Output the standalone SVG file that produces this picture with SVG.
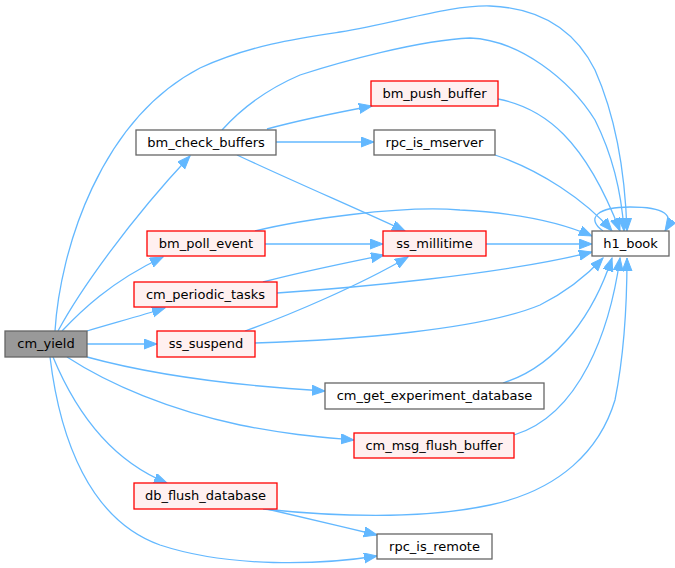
<svg xmlns="http://www.w3.org/2000/svg" width="675" height="568" viewBox="0 0 675 568">
<style>
  .n rect { stroke-width: 1.3; }
  .g rect { fill: #ffffff; stroke: #666666; }
  .r rect { fill: #fff0f0; stroke: #ff0000; }
  .c rect { fill: #999999; stroke: #666666; }
  text { font-family: "DejaVu Sans", "Liberation Sans", sans-serif; font-size: 13px; fill: #000000; text-anchor: middle; }
  .e path { fill: none; stroke: #63b8ff; stroke-width: 1.3; marker-end: url(#arr); }
</style>
<defs>
  <marker id="arr" markerUnits="userSpaceOnUse" markerWidth="14" markerHeight="11" refX="13" refY="5" orient="auto">
    <path d="M0,0 L13,5 L0,10 z" fill="#63b8ff" stroke="#63b8ff" stroke-width="1"/>
  </marker>
</defs>
<rect width="675" height="568" fill="#ffffff"/>
<g id="edges" class="e">
  <path d="M55,331 C60,250 100,120 200,68 C250,45 300,38 340,32 C400,22 450,5 490,6 C540,8 575,30 595,70 C615,115 625,170 627,231"/>
  <path d="M58,331 C80,290 130,220 190,156"/>
  <path d="M62,331 C80,312 110,282 163,257"/>
  <path d="M87,331 C110,324 140,316 165,308"/>
  <path d="M87,344 L157,344"/>
  <path d="M87,357 C160,377 240,386 325,391"/>
  <path d="M67,357 C110,385 170,410 240,425 C290,435 320,437 354,440"/>
  <path d="M53,357 C75,410 110,460 167,483"/>
  <path d="M50,357 C60,440 90,520 160,545 C230,568 320,565 377,556"/>
  <path d="M222,130 C240,110 265,90 300,75 C340,62 420,40 470,38 C520,40 570,80 595,120 C615,160 622,200 624,231"/>
  <path d="M267,129 C300,120 340,112 372,106"/>
  <path d="M276,142 L374,142"/>
  <path d="M237,155 C290,180 360,210 405,231"/>
  <path d="M498,99 C545,108 585,140 620,231"/>
  <path d="M495,155 C540,170 585,200 612,231"/>
  <path d="M255,231 C300,220 400,205 460,210 C520,213 560,222 592,236"/>
  <path d="M265,244 L383,244"/>
  <path d="M486,244 L592,244"/>
  <path d="M263,282 C300,272 350,262 384,255"/>
  <path d="M277,293 C350,288 500,275 592,252"/>
  <path d="M245,331 C290,315 360,285 408,257"/>
  <path d="M255,343 C350,340 480,330 540,305 C570,290 590,272 603,258"/>
  <path d="M503,383 C560,365 595,310 612,258"/>
  <path d="M514,435 C580,415 610,330 620,258"/>
  <path d="M263,509 C330,516 420,520 490,505 C560,490 600,450 615,400 C625,350 627,300 627,258"/>
  <path d="M267,509 C300,517 340,526 377,535"/>
  <path d="M603,231 C585,218 598,207 630,207 C665,207 675,215 665,231"/>
</g>
<g id="node_cm_yield" class="n c"><rect x="5" y="331" width="82" height="26"/><text x="46" y="348">cm_yield</text></g>
<g id="node_bm_check_buffers" class="n g"><rect x="136" y="130" width="140" height="25"/><text x="206" y="147">bm_check_buffers</text></g>
<g id="node_bm_poll_event" class="n r"><rect x="147" y="231" width="118" height="25"/><text x="206" y="248">bm_poll_event</text></g>
<g id="node_cm_periodic_tasks" class="n r"><rect x="134" y="282" width="143" height="25"/><text x="205.5" y="299">cm_periodic_tasks</text></g>
<g id="node_ss_suspend" class="n r"><rect x="157" y="331" width="98" height="26"/><text x="206" y="348">ss_suspend</text></g>
<g id="node_db_flush_database" class="n r"><rect x="134" y="483" width="143" height="26"/><text x="205.5" y="500">db_flush_database</text></g>
<g id="node_bm_push_buffer" class="n r"><rect x="371" y="81" width="127" height="25"/><text x="434.5" y="98">bm_push_buffer</text></g>
<g id="node_rpc_is_mserver" class="n g"><rect x="374" y="130" width="121" height="25"/><text x="434.5" y="147">rpc_is_mserver</text></g>
<g id="node_ss_millitime" class="n r"><rect x="383" y="231" width="103" height="25"/><text x="434.5" y="248">ss_millitime</text></g>
<g id="node_h1_book" class="n g"><rect x="592" y="231" width="77" height="25"/><text x="630.5" y="248">h1_book</text></g>
<g id="node_cm_get_experiment_database" class="n g"><rect x="325" y="383" width="219" height="26"/><text x="434.5" y="400">cm_get_experiment_database</text></g>
<g id="node_cm_msg_flush_buffer" class="n r"><rect x="354" y="433" width="160" height="25"/><text x="434" y="450">cm_msg_flush_buffer</text></g>
<g id="node_rpc_is_remote" class="n g"><rect x="377" y="534" width="115" height="25"/><text x="434.5" y="551">rpc_is_remote</text></g>
</svg>
